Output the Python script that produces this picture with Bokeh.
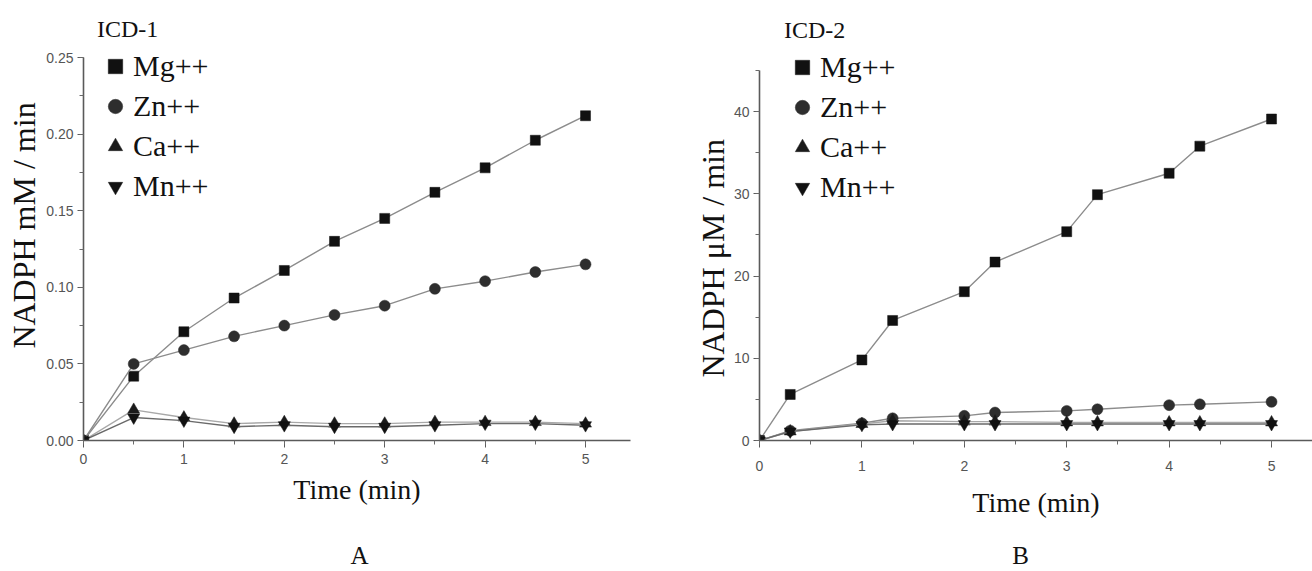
from bokeh.plotting import figure
from bokeh.layouts import row
from bokeh.models import (Range1d, SingleIntervalTicker, FixedTicker,
                          PrintfTickFormatter, Legend, LegendItem,
                          LinearAxis, Title)
from bokeh.embed import file_html
from bokeh.resources import INLINE

# ---------------- data ----------------
series_names = ["Mg++", "Zn++", "Ca++", "Mn++"]

time_a = [0, 0.5, 1, 1.5, 2, 2.5, 3, 3.5, 4, 4.5, 5]
mg_a = [0, 0.042, 0.071, 0.093, 0.111, 0.130, 0.145, 0.162, 0.178, 0.196, 0.212]
zn_a = [0, 0.050, 0.059, 0.068, 0.075, 0.082, 0.088, 0.099, 0.104, 0.110, 0.115]
ca_a = [0, 0.020, 0.015, 0.011, 0.012, 0.011, 0.011, 0.012, 0.012, 0.012, 0.011]
mn_a = [0, 0.015, 0.013, 0.009, 0.010, 0.009, 0.009, 0.010, 0.011, 0.011, 0.010]

time_b = [0, 0.3, 1, 1.3, 2, 2.3, 3, 3.3, 4, 4.3, 5]
mg_b = [0, 5.6, 9.8, 14.6, 18.1, 21.7, 25.4, 29.9, 32.5, 35.8, 39.1]
zn_b = [0, 1.2, 2.1, 2.7, 3.0, 3.4, 3.6, 3.8, 4.3, 4.4, 4.7]
ca_b = [0, 1.1, 2.0, 2.4, 2.3, 2.3, 2.2, 2.2, 2.2, 2.2, 2.2]
mn_b = [0, 1.1, 1.9, 2.0, 2.0, 2.0, 2.0, 2.0, 2.0, 2.0, 2.0]

panel_letters = ["A", "B"]
legend_titles = ["ICD-1", "ICD-2"]
y_labels = ["NADPH mM / min", "NADPH \u03bcM / min"]
x_label = "Time (min)"

SERIF = "Liberation Serif"
SANS = "Liberation Sans"

markers = ["square", "circle", "triangle", "inverted_triangle"]
marker_sizes = [10, 11, 12, 12]
fill_colors = ["#111111", "#2e2e2e", "#1a1a1a", "#111111"]
line_colors = ["#8c8c8c", "#8c8c8c", "#a8a8a8", "#6a6a6a"]

H = 571
TOP = 10
BOTTOM = 131   # x axis (value 0) of both panels at y = 440


def style_axis(ax):
    ax.axis_line_color = "#5a5a5a"
    ax.axis_line_width = 1.6
    ax.major_tick_line_color = "#5a5a5a"
    ax.minor_tick_line_color = "#6a6a6a"
    ax.major_tick_in = 0
    ax.minor_tick_in = 0
    ax.major_tick_out = 7
    ax.minor_tick_out = 4
    ax.major_label_text_font = SANS
    ax.major_label_text_font_size = "14px"
    ax.major_label_text_color = "#555555"
    ax.axis_label_text_font = SERIF
    ax.axis_label_text_font_style = "normal"
    ax.axis_label_text_color = "#111111"


def panel(times, ys, width, left, right, xmax, yrange, ybounds, y_interval,
          y_fmt, ylabel, ylabel_as_title, ylabel_offset,
          xtick_standoff, xlabel_standoff, legend_title, legend_loc,
          letter, letter_x, letter_standoff):
    p = figure(width=width, height=H, output_backend="svg",
               toolbar_location=None, min_border_left=left,
               min_border_right=right, min_border_top=TOP,
               min_border_bottom=BOTTOM,
               x_range=Range1d(0, xmax), y_range=Range1d(*yrange))
    p.grid.visible = False
    p.outline_line_color = None
    p.background_fill_color = "white"
    p.border_fill_color = "white"

    xa = p.xaxis[0]
    xa.ticker = SingleIntervalTicker(interval=1, num_minor_ticks=2)
    xa.axis_label = x_label
    xa.bounds = (0, xmax)
    ya = p.yaxis[0]
    ya.ticker = SingleIntervalTicker(interval=y_interval, num_minor_ticks=2)
    ya.formatter = PrintfTickFormatter(format=y_fmt)
    ya.bounds = ybounds

    style_axis(xa)
    style_axis(ya)
    xa.axis_label_text_font_size = "28px"
    xa.major_label_standoff = xtick_standoff
    xa.axis_label_standoff = xlabel_standoff
    ya.major_label_standoff = 4
    ya.major_tick_out = 6

    if ylabel_as_title:
        p.add_layout(Title(text=ylabel, align="left", offset=ylabel_offset,
                           standoff=0, text_font=SERIF,
                           text_font_size="32px", text_font_style="normal",
                           text_color="#111111"), "left")
    else:
        ya.axis_label = ylabel
        ya.axis_label_text_font_size = "32px"
        ya.axis_label_standoff = 1

    # panel letter under the time axis
    la = LinearAxis(ticker=FixedTicker(ticks=[letter_x]),
                    major_label_overrides={letter_x: letter},
                    axis_line_color=None, major_tick_line_color=None,
                    minor_tick_line_color=None, major_tick_in=0,
                    major_tick_out=0, minor_tick_out=0,
                    major_label_standoff=letter_standoff,
                    major_label_text_font=SERIF,
                    major_label_text_font_size="25px",
                    major_label_text_color="#111111")
    p.add_layout(la, "below")

    items = []
    for name, yv, mk, ms, fc, lc in zip(series_names, ys, markers,
                                         marker_sizes, fill_colors,
                                         line_colors):
        p.line(times, yv, line_color=lc, line_width=1.4)
        r = p.scatter(times, yv, marker=mk, size=ms, fill_color=fc,
                      line_color=fc, line_width=0.5)
        items.append(LegendItem(label=name, renderers=[r]))

    leg = Legend(items=items, location=legend_loc, title=legend_title,
                 title_text_font=SERIF, title_text_font_size="24px",
                 title_text_font_style="normal", title_text_color="#111111",
                 title_standoff=3,
                 label_text_font=SERIF, label_text_font_size="30px",
                 label_text_color="#111111", label_standoff=0,
                 glyph_width=36, glyph_height=40, label_height=40,
                 spacing=0, padding=0, margin=0,
                 border_line_color=None, background_fill_alpha=0)
    p.add_layout(leg)
    return p


# Panel A: 0 at y=440, 0.25 at y=57 ; frame 10..440
pa = panel(time_a, [mg_a, zn_a, ca_a, mn_a], width=655, left=83, right=25,
           xmax=5.448, yrange=(0, 0.2807), ybounds=(0, 0.25),
           y_interval=0.05, y_fmt="%.2f", ylabel=y_labels[0],
           ylabel_as_title=False, ylabel_offset=0,
           xtick_standoff=6, xlabel_standoff=7,
           legend_title=legend_titles[0], legend_loc=(14, 234),
           letter=panel_letters[0], letter_x=2.75, letter_standoff=34)

# Panel B: 0 at y=440, 45 at y=70 ; frame 10..440
pb = panel(time_b, [mg_b, zn_b, ca_b, mn_b], width=657, left=104, right=0,
           xmax=5.40, yrange=(0, 52.30), ybounds=(0, 45),
           y_interval=10, y_fmt="%d", ylabel=y_labels[1],
           ylabel_as_title=True, ylabel_offset=63,
           xtick_standoff=13, xlabel_standoff=13,
           legend_title=legend_titles[1], legend_loc=(25, 233),
           letter=panel_letters[1], letter_x=2.55, letter_standoff=21)

layout = row(pa, pb)
open("out.html", "w").write(file_html(layout, INLINE))
